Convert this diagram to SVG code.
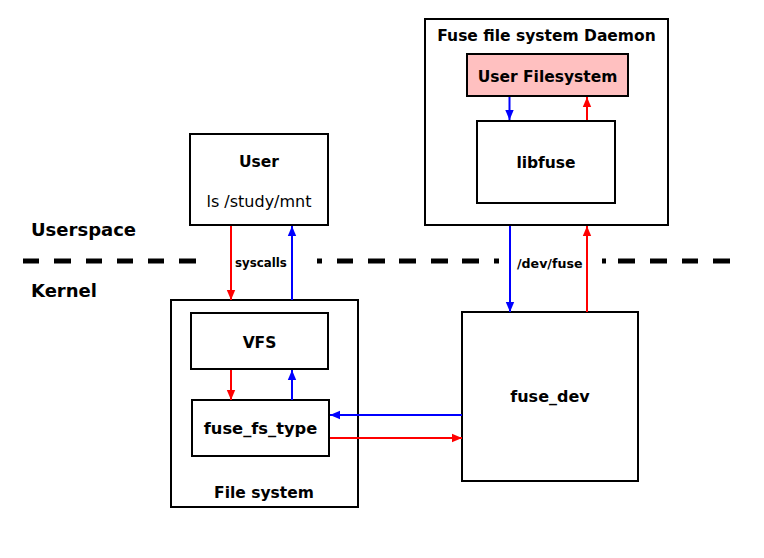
<svg xmlns="http://www.w3.org/2000/svg" width="764" height="558" viewBox="0 0 764 558">
<style>
.box{fill:#fff;stroke:#000;stroke-width:2}
.pink{fill:#ffc0c0;stroke:#000;stroke-width:2}
.t{font-family:"DejaVu Sans","Verdana",sans-serif;font-weight:bold;font-size:15.5px;fill:#000;text-anchor:middle}
.n{font-family:"DejaVu Sans","Verdana",sans-serif;font-size:16px;fill:#000;text-anchor:middle}
.big{font-family:"DejaVu Sans","Verdana",sans-serif;font-weight:bold;font-size:18px;fill:#000}
.sm{font-family:"DejaVu Sans","Verdana",sans-serif;font-weight:bold;font-size:11.8px;fill:#000}
.r{stroke:#ff0000;stroke-width:2;fill:none;marker-end:url(#ar)}
.b{stroke:#0000ff;stroke-width:2;fill:none;marker-end:url(#ab)}
.dash{stroke:#000;stroke-width:5;fill:none}
</style>
<defs>
<marker id="ar" markerUnits="userSpaceOnUse" markerWidth="10" markerHeight="10" viewBox="0 0 10 10" refX="10" refY="5" orient="auto"><path d="M0,0.8 L10,5 L0,9.2 Z" fill="#ff0000"/></marker>
<marker id="ab" markerUnits="userSpaceOnUse" markerWidth="10" markerHeight="10" viewBox="0 0 10 10" refX="10" refY="5" orient="auto"><path d="M0,0.8 L10,5 L0,9.2 Z" fill="#0000ff"/></marker>
</defs>
<rect width="764" height="558" fill="#fff"/>

<g id="separator">
<path class="dash" d="M23 261h16M54 261h17M86 261h16M117 261h16M148 261h16M179 261h17M317 261h5M337 261h16M368 261h17M399 261h17M431 261h17M462 261h17M494 261h5M602 261h4M618 261h17M650 261h17M682 261h16M713 261h17"/>
<text class="big" x="31" y="236">Userspace</text>
<text class="big" x="31" y="297">Kernel</text>
</g>

<g id="daemon">
<rect class="box" x="425" y="19" width="243" height="206"/>
<text class="t" x="546.5" y="41">Fuse file system Daemon</text>
</g>
<g id="userfs">
<rect class="pink" x="467" y="54" width="161" height="42"/>
<text class="t" x="547.5" y="81.5">User Filesystem</text>
</g>
<g id="libfuse">
<rect class="box" x="477" y="121" width="138" height="82"/>
<text class="t" x="546" y="168">libfuse</text>
</g>
<g id="user">
<rect class="box" x="190" y="134" width="138" height="91"/>
<text class="t" x="259" y="167">User</text>
<text class="n" x="259" y="207">ls /study/mnt</text>
</g>
<g id="filesystem">
<rect class="box" x="171" y="300" width="187" height="207"/>
<text class="t" x="264" y="498">File system</text>
</g>
<g id="vfs">
<rect class="box" x="191" y="313" width="137" height="56"/>
<text class="t" x="259.5" y="348">VFS</text>
</g>
<g id="fuse_fs_type">
<rect class="box" x="192" y="400" width="137" height="56"/>
<text class="t" x="260.5" y="434" style="font-size:16.3px">fuse_fs_type</text>
</g>
<g id="fuse_dev">
<rect class="box" x="462" y="312" width="176" height="169"/>
<text class="t" x="550" y="402" style="font-size:16px">fuse_dev</text>
</g>

<g id="connectors">
<path class="b" d="M509.5 97V120"/>
<path class="r" d="M587 120V97"/>
<path class="b" d="M510 226V312"/>
<path class="r" d="M587 312V226"/>
<path class="r" d="M231 226V300"/>
<path class="b" d="M292 300V226"/>
<path class="r" d="M231 370V400"/>
<path class="b" d="M292 400V370"/>
<path class="b" d="M462 415H330"/>
<path class="r" d="M330 438H462"/>
<text class="sm" x="235" y="267">syscalls</text>
<text class="sm" x="517" y="268" style="font-size:12.6px">/dev/fuse</text>
</g>
</svg>
